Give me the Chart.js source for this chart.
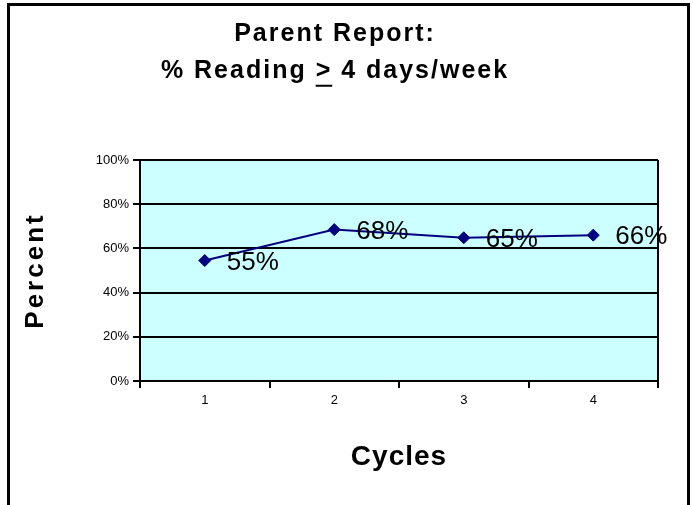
<!DOCTYPE html>
<html>
<head>
<meta charset="utf-8">
<script src="https://cdn.jsdelivr.net/npm/chart.js"></script>
<style>
html, body { margin: 0; padding: 0; background: #fff; }
</style>
</head>
<body>
<canvas id="myChart" width="693" height="505"></canvas>
<script>
// data
var cycles = ["1", "2", "3", "4"];
var percentReading = [54.5, 68.5, 64.8, 66.0];
var pointLabels = ["55%", "68%", "65%", "66%"];
var titleLines = ["Parent Report:", "% Reading > 4 days/week"];

var FONT = '"Liberation Sans", Arial, sans-serif';
Chart.defaults.font.family = FONT;
Chart.defaults.color = "#000";

// the old chart spaces its big bold letters out a bit
function addSpacing(obj, fn, sp) {
	if (!obj || obj["_sp_" + fn]) return;
	var orig = obj[fn];
	obj["_sp_" + fn] = true;
	obj[fn] = function() {
		var c = this.ctx;
		c.letterSpacing = sp;
		orig.apply(this, arguments);
		c.letterSpacing = "0px";
	};
}

var spacingPlugin = {
	id: "spacing",
	afterLayout: function(chart) {
		addSpacing(chart.titleBlock, "draw", "2px");
		addSpacing(chart.scales.y, "drawTitle", "3px");
		addSpacing(chart.scales.x, "drawTitle", "1px");
	}
};

// plot background, right edge and the outer frame
var framePlugin = {
	id: "frame",
	beforeDraw: function(chart) {
		var ctx = chart.ctx, a = chart.chartArea;
		ctx.save();
		ctx.fillStyle = "#fff";
		ctx.fillRect(0, 0, chart.width, chart.height);
		ctx.fillStyle = "#CCFFFF";
		ctx.fillRect(a.left, a.top, a.right - a.left, a.bottom - a.top);
		ctx.restore();
	},
	afterDraw: function(chart) {
		var ctx = chart.ctx, a = chart.chartArea;
		ctx.save();
		ctx.strokeStyle = "#000";
		ctx.lineWidth = 2;
		ctx.beginPath();
		ctx.moveTo(a.right, a.top);
		ctx.lineTo(a.right, a.bottom);
		ctx.stroke();
		ctx.lineWidth = 3;
		ctx.strokeRect(8.5, 4.5, 680, 520);

		// underline the ">" in the second title line
		var t = chart.titleBlock;
		ctx.font = "bold 25px " + FONT;
		ctx.letterSpacing = "2px";
		var full = ctx.measureText(titleLines[1]).width;
		var pre = ctx.measureText("% Reading ").width;
		var gt = ctx.measureText(">").width;
		ctx.letterSpacing = "0px";
		var cx = (t.left + t.right) / 2;
		var x0 = cx - full / 2 + pre;
		var y = t.top + 15 + 37.5 + 18.75 + 14.5;
		ctx.lineWidth = 2;
		ctx.beginPath();
		ctx.moveTo(x0, y);
		ctx.lineTo(x0 + gt, y);
		ctx.stroke();
		ctx.restore();
	}
};

// value labels to the right of each point
var labelPlugin = {
	id: "pointText",
	afterDatasetsDraw: function(chart) {
		var ctx = chart.ctx;
		var meta = chart.getDatasetMeta(0);
		ctx.save();
		ctx.font = "26px " + FONT;
		ctx.fillStyle = "#000";
		ctx.textAlign = "left";
		ctx.textBaseline = "middle";
		meta.data.forEach(function(pt, i) {
			ctx.fillText(pointLabels[i], pt.x + 22, pt.y + 2);
		});
		ctx.restore();
	}
};

var ctx = document.getElementById("myChart");

var myChart = new Chart(ctx, {
	type: "line",
	data: {
		labels: cycles,
		datasets: [
			{
				label: "% Reading",
				data: percentReading,
				borderColor: "#000080",
				backgroundColor: "#000080",
				borderWidth: 2,
				fill: false,
				tension: 0,
				pointStyle: "rectRot",
				pointRadius: 6,
				pointBackgroundColor: "#000080",
				pointBorderColor: "#000080",
				pointBorderWidth: 1,
				clip: false
			}
		]
	},
	options: {
		responsive: false,
		animation: false,
		devicePixelRatio: 1,
		layout: { padding: { left: 12, right: 35, top: 0, bottom: 0 } },
		plugins: {
			legend: { display: false },
			tooltip: { enabled: false },
			title: {
				display: true,
				text: titleLines,
				color: "#000",
				font: { size: 25, weight: "bold", lineHeight: 37.5 / 25 },
				padding: { top: 15, bottom: 70 }
			}
		},
		scales: {
			x: {
				offset: true,
				grid: {
					offset: true,
					drawOnChartArea: false,
					color: "#000",
					lineWidth: 2,
					tickLength: 7
				},
				border: { display: true, color: "#000", width: 2 },
				ticks: { color: "#000", font: { size: 13 }, padding: 5 },
				title: {
					display: true,
					text: "Cycles",
					color: "#000",
					font: { size: 28, weight: "bold" },
					padding: { top: 0, bottom: 31 }
				},
				afterFit: function(scale) { scale.height = 124; }
			},
			y: {
				min: 0,
				max: 100,
				grid: {
					color: "#000",
					lineWidth: 2,
					tickLength: 7
				},
				border: { display: true, color: "#000", width: 2 },
				ticks: {
					stepSize: 20,
					color: "#000",
					font: { size: 13 },
					padding: 4,
					callback: function(v) { return v + "%"; }
				},
				title: {
					display: true,
					text: "Percent",
					color: "#000",
					font: { size: 26, weight: "bold" },
					padding: { top: 8, bottom: 0 }
				},
				afterFit: function(scale) { scale.width = 128; }
			}
		}
	},
	plugins: [spacingPlugin, framePlugin, labelPlugin]
});
</script>
</body>
</html>
